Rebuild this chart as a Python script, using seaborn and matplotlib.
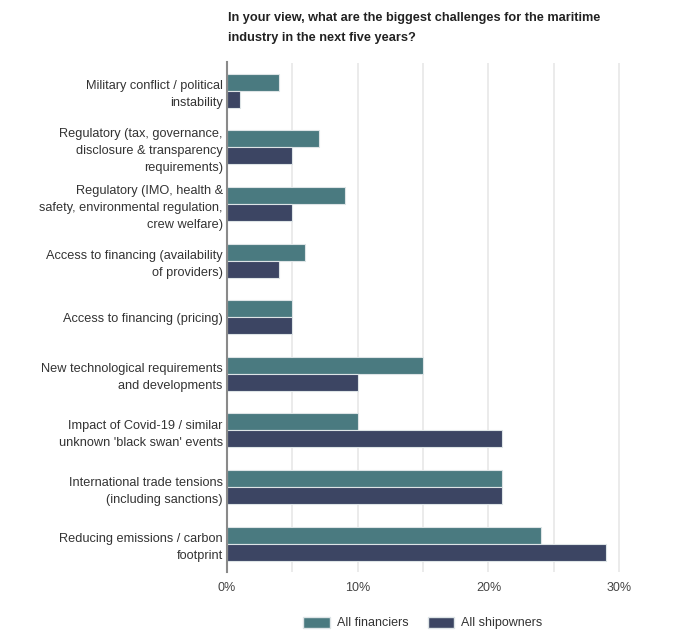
import matplotlib
matplotlib.use("Agg")
import matplotlib.pyplot as plt
import seaborn as sns
import pandas as pd
from matplotlib.patches import Patch

categories = [
    "Military conflict / political\ninstability",
    "Regulatory (tax, governance,\ndisclosure & transparency\nrequirements)",
    "Regulatory (IMO, health &\nsafety, environmental regulation,\ncrew welfare)",
    "Access to financing (availability\nof providers)",
    "Access to financing (pricing)",
    "New technological requirements\nand developments",
    "Impact of Covid-19 / similar\nunknown 'black swan' events",
    "International trade tensions\n(including sanctions)",
    "Reducing emissions / carbon\nfootprint",
]
financiers = [4, 7, 9, 6, 5, 15, 10, 21, 24]
shipowners = [1, 5, 5, 4, 5, 10, 21, 21, 29]
series_names = ["All financiers", "All shipowners"]
colors = ["#4a7a80", "#3c4563"]
x_ticks = [0, 10, 20, 30]

df = pd.DataFrame({
    "category": categories * 2,
    "value": financiers + shipowners,
    "group": [series_names[0]] * len(categories) + [series_names[1]] * len(categories),
})

sns.set_theme(style="white")
plt.rcParams["font.family"] = ["Liberation Sans", "DejaVu Sans"]

fig = plt.figure(figsize=(6.75, 6.3), dpi=100)
ax = fig.add_axes([227 / 675, 1 - 572 / 630, (627 - 227) / 675, (572 - 62.5) / 630])

sns.barplot(
    data=df, y="category", x="value", hue="group", orient="h",
    palette=colors, saturation=1, width=0.6, ax=ax,
    edgecolor="#dde4e6", linewidth=0.8, legend=False, zorder=3,
)

ax.set_xlim(0, 30.6)
ax.set_ylim(len(categories) - 0.5, -0.5)
ax.grid(axis="x", color="#ebebeb", linewidth=1.4, zorder=0)
ax.set_axisbelow(True)
grid_steps = list(range(0, 31, 5))
ax.set_xticks(grid_steps)
ax.set_xticklabels([f"{t}%" if t in x_ticks else "" for t in grid_steps])
ax.tick_params(axis="x", length=0, pad=7, labelsize=9, labelcolor="#444444")
ax.tick_params(axis="y", length=0, pad=3, labelsize=9.2, labelcolor="#333333")
for lbl in ax.get_yticklabels():
    lbl.set_linespacing(1.55)
    lbl.set_horizontalalignment("right")
ax.set_xlabel("")
ax.set_ylabel("")
for side in ["top", "right", "bottom"]:
    ax.spines[side].set_visible(False)
ax.spines["left"].set_color("#8a8a8a")
ax.spines["left"].set_linewidth(1.5)
ax.spines["left"].set_zorder(4)

fig.text(228 / 675, 1 - 12 / 630,
         "In your view, what are the biggest challenges for the maritime\nindustry in the next five years?",
         ha="left", va="top", fontsize=9.2, fontweight="bold", color="#222222", linespacing=1.85)

handles = [Patch(facecolor=c, edgecolor="#dde4e6", label=n) for c, n in zip(colors, series_names)]
fig.legend(handles=handles, loc="center", bbox_to_anchor=(423 / 675, 1 - 623 / 630), ncol=2,
           frameon=False, fontsize=9, handlelength=2.1, handleheight=1.0,
           handletextpad=0.6, columnspacing=1.5, labelcolor="#333333")

fig.savefig("out.png", dpi=100)
